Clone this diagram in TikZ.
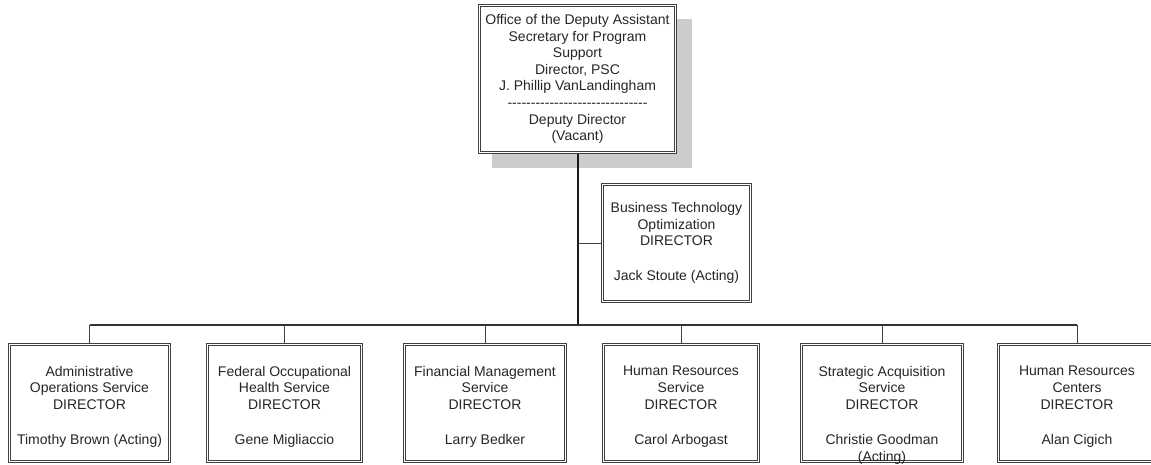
\documentclass[tikz,border=0pt]{standalone}
\usepackage{fontspec}
\setmainfont{Liberation Sans}
\usetikzlibrary{backgrounds}
\begin{document}
\begin{tikzpicture}[x=1pt,y=-1pt,
  box/.style={draw=black!75, double=white, double distance=1.4pt, line width=0.9pt, fill=white, inner sep=0pt, minimum height=116.8pt},
  txt/.style={align=center, inner sep=0pt, text=black!85, font=\fontsize{14}{16.6}\selectfont},
  trunk/.style={draw=black!90, line width=2pt},
  bus/.style={draw=black!80, line width=1.3pt},
  conn/.style={draw=black!75, line width=1pt}]
\useasboundingbox (0,0) rectangle (1151,465);
\clip (0,0) rectangle (1151,465);
% top box
\node[box, minimum width=195.8pt, minimum height=146.8pt] (top) at (577.5,79) {};
\node[txt] (toptxt) at (577.5,79) {Office of the Deputy Assistant\\Secretary for Program\\Support\\Director, PSC\\J. Phillip VanLandingham\\-{}-{}-{}-{}-{}-{}-{}-{}-{}-{}-{}-{}-{}-{}-{}-{}-{}-{}-{}-{}-{}-{}-{}-{}-{}-{}-{}-{}-{}-{}\\Deputy Director\\(Vacant)};
% staff box
\node[box, minimum width=147.8pt] (bto) at (676.5,243) {};
\node[txt] (btotxt) at (676.5,243) {Business Technology\\Optimization\\DIRECTOR\\[18.4pt]Jack Stoute (Acting)};
% bottom boxes
\node[box, minimum width=159.8pt] (b1) at (89.5,403) {};
\node[box, minimum width=153.8pt] (b2) at (284.5,403) {};
\node[box, minimum width=160.8pt] (b3) at (485,403) {};
\node[box, minimum width=154.8pt] (b4) at (681,403) {};
\node[box, minimum width=160.8pt] (b5) at (882,403) {};
\node[box, minimum width=156.8pt] (b6) at (1077,403) {};
\node[txt, anchor=north] (t1) at (89.5,366) {Administrative\\Operations Service\\DIRECTOR\\[18.4pt]Timothy Brown (Acting)};
\node[txt, anchor=north] (t2) at (284.5,366) {Federal Occupational\\Health Service\\DIRECTOR\\[18.4pt]Gene Migliaccio};
\node[txt, anchor=north] (t3) at (485,366) {Financial Management\\Service\\DIRECTOR\\[18.4pt]Larry Bedker};
\node[txt, anchor=north] (t4) at (681,366) {Human Resources\\Service\\DIRECTOR\\[18.4pt]Carol Arbogast};
\node[txt, anchor=north] (t5) at (882,366) {Strategic Acquisition\\Service\\DIRECTOR\\[18.4pt]Christie Goodman\\(Acting)};
\node[txt, anchor=north] (t6) at (1077,366) {Human Resources\\Centers\\DIRECTOR\\[18.4pt]Alan Cigich};
\coordinate (j) at (577.5,325);
\begin{scope}[on background layer]
  \fill[black!20] (492,19) rectangle (692,168);
  \draw[trunk] (top.south) -- (j);
  \draw[bus] (b1.north |- j) -- (b6.north |- j);
  \draw[conn] (bto.west) -- (bto.west -| j);
  \foreach \b in {b1,b2,b3,b4,b5,b6} {\draw[conn] (\b.north) -- (\b.north |- j);}
\end{scope}
\end{tikzpicture}
\end{document}
